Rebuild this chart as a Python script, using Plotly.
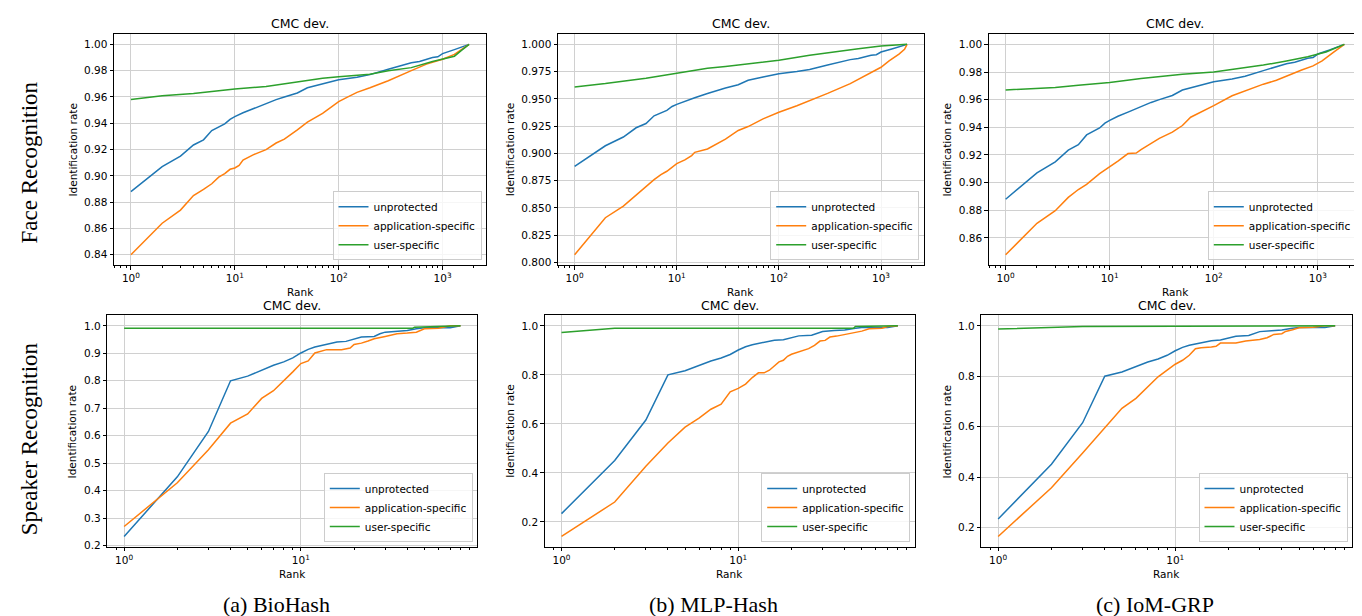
import math
import plotly.graph_objects as go

# ---------------- data ----------------
series_names = ["unprotected", "application-specific", "user-specific"]
column_captions = ["(a) BioHash", "(b) MLP-Hash", "(c) IoM-GRP"]
row_labels = ["Face Recognition", "Speaker Recognition"]
panel_title = "CMC dev."
x_title = "Rank"
y_title = "Identification rate"

# Face recognition (top row)
face_unprot_rank = [1, 2, 3, 4, 5, 6, 8, 9, 10, 12, 15, 20, 25, 30, 40, 50, 70, 100, 150, 200,
                    300, 400, 500, 600, 800, 900, 1000, 1300, 1500, 1800]
face_unprot_rate = [0.888, 0.907, 0.915, 0.9235, 0.9274, 0.9345, 0.9395, 0.943, 0.945, 0.948,
                    0.951, 0.955, 0.958, 0.960, 0.963, 0.967, 0.970, 0.973, 0.975, 0.977,
                    0.981, 0.984, 0.986, 0.987, 0.990, 0.9905, 0.993, 0.996, 0.998, 1.0]

bio_face_app_rank = [1, 2, 3, 4, 5, 6, 7, 8, 9, 10, 11, 12, 15, 20, 25, 30, 40, 50, 70, 100,
                     120, 150, 200, 300, 500, 700, 1000, 1300, 1800]
bio_face_app_rate = [0.840, 0.864, 0.874, 0.885, 0.8897, 0.894, 0.899, 0.9017, 0.905, 0.906,
                     0.908, 0.912, 0.916, 0.920, 0.925, 0.928, 0.935, 0.9408, 0.9476, 0.9564,
                     0.9597, 0.9635, 0.967, 0.9723, 0.980, 0.985, 0.9887, 0.9924, 1.0]
bio_face_user_rank = [1, 2, 4, 6, 10, 20, 30, 50, 70, 100, 200, 300, 500, 800, 1000, 1300, 1500, 1800]
bio_face_user_rate = [0.958, 0.961, 0.9627, 0.9642, 0.966, 0.968, 0.970, 0.9728, 0.9743, 0.9753,
                      0.9773, 0.980, 0.9823, 0.987, 0.9887, 0.991, 0.995, 1.0]

mlp_face_app_rank = [1, 2, 3, 4, 5, 6, 7, 8, 10, 12, 14, 15, 20, 25, 30, 40, 50, 70, 100, 150,
                     200, 300, 500, 700, 900, 1000, 1200, 1500, 1700, 1800]
mlp_face_app_rate = [0.807, 0.841, 0.8517, 0.8617, 0.870, 0.876, 0.8805, 0.8836, 0.8906, 0.894,
                     0.898, 0.901, 0.904, 0.9088, 0.913, 0.921, 0.9246, 0.9316, 0.9377, 0.9437,
                     0.9483, 0.955, 0.964, 0.971, 0.977, 0.979, 0.9848, 0.991, 0.9954, 1.0]
mlp_face_user_rank = [1, 2, 5, 10, 20, 30, 50, 100, 200, 400, 600, 1000, 1800]
mlp_face_user_rate = [0.961, 0.964, 0.969, 0.9735, 0.978, 0.9796, 0.982, 0.9854, 0.990, 0.994,
                      0.996, 0.9985, 1.0]

iom_face_app_rank = [1, 2, 3, 4, 5, 6, 8, 10, 12, 15, 18, 20, 25, 30, 40, 50, 60, 70, 100, 150,
                     200, 300, 400, 500, 700, 900, 1100, 1400, 1800]
iom_face_app_rate = [0.8478, 0.8706, 0.8797, 0.8893, 0.895, 0.8988, 0.9065, 0.9113, 0.9156, 0.921,
                     0.9214, 0.9238, 0.928, 0.932, 0.9365, 0.9413, 0.9473, 0.9497, 0.9557, 0.9628,
                     0.9664, 0.9712, 0.974, 0.9772, 0.9815, 0.9844, 0.988, 0.994, 1.0]
iom_face_user_rank = [1, 3, 5, 10, 20, 50, 100, 200, 300, 500, 800, 1200, 1800]
iom_face_user_rate = [0.967, 0.9688, 0.9705, 0.9724, 0.9753, 0.9784, 0.980, 0.9832, 0.985, 0.988,
                      0.9911, 0.9945, 1.0]

# Speaker recognition (bottom row)
spk_unprot_rank = [1, 2, 3, 4, 5, 6, 7, 8, 9, 10, 11, 12, 14, 16, 18, 20, 22, 26, 28, 30, 35, 40,
                   45, 50, 70, 80]
spk_unprot_rate = [0.2337, 0.4506, 0.6157, 0.800, 0.8169, 0.8386, 0.8566, 0.8687, 0.8831, 0.9012,
                   0.9145, 0.923, 0.9313, 0.941, 0.9434, 0.953, 0.959, 0.9614, 0.9711, 0.977,
                   0.9807, 0.9831, 0.989, 0.993, 0.993, 1.0]

bio_spk_app_rank = [1, 2, 3, 4, 5, 6, 7, 8, 9, 10, 11, 12, 13, 14, 17, 19, 20, 22, 24, 26, 30, 35,
                    40, 45, 50, 60, 70, 80]
bio_spk_app_rate = [0.270, 0.429, 0.5494, 0.6458, 0.6795, 0.736, 0.7639, 0.8024, 0.8325, 0.8627,
                    0.8723, 0.901, 0.908, 0.9133, 0.9133, 0.919, 0.932, 0.937, 0.9446, 0.953,
                    0.9614, 0.971, 0.9735, 0.977, 0.989, 0.9916, 1.0, 1.0]
bio_spk_user_rank = [1, 43, 44, 80]
bio_spk_user_rate = [0.9916, 0.9916, 0.9952, 1.0]

mlp_spk_app_rank = [1, 2, 3, 4, 5, 6, 7, 8, 9, 10, 11, 12, 13, 14, 15, 16, 17, 18, 19, 20, 22, 25,
                    27, 29, 31, 33, 36, 40, 45, 50, 55, 65, 70, 80]
mlp_spk_app_rate = [0.1405, 0.281, 0.427, 0.5216, 0.5865, 0.623, 0.6595, 0.680, 0.731, 0.7446,
                    0.762, 0.789, 0.808, 0.808, 0.8189, 0.835, 0.8527, 0.8595, 0.8757, 0.8838,
                    0.893, 0.9068, 0.920, 0.9378, 0.9405, 0.954, 0.958, 0.9649, 0.9703, 0.9784,
                    0.9878, 0.9905, 0.997, 1.0]
mlp_spk_user_rank = [1, 2, 45, 46, 80]
mlp_spk_user_rate = [0.973, 0.9905, 0.9905, 0.997, 1.0]

iom_spk_app_rank = [1, 2, 3, 4, 5, 6, 7, 8, 9, 10, 11, 12, 13, 14, 16, 17, 18, 22, 25, 28, 30, 33,
                    36, 40, 42, 46, 50, 60, 70, 80]
iom_spk_app_rate = [0.1645, 0.3577, 0.4956, 0.598, 0.6729, 0.7123, 0.7583, 0.7977, 0.824, 0.8476,
                    0.8634, 0.8831, 0.9094, 0.9133, 0.916, 0.9186, 0.9317, 0.9317, 0.9396, 0.9422,
                    0.946, 0.9527, 0.9658, 0.9685, 0.9777, 0.9842, 0.992, 0.9947, 1.0, 1.0]
iom_spk_user_rank = [1, 2, 3, 80]
iom_spk_user_rate = [0.9869, 0.992, 0.997, 1.0]

face_yticks_bio = [0.84, 0.86, 0.88, 0.90, 0.92, 0.94, 0.96, 0.98, 1.00]
face_yticks_mlp = [0.800, 0.825, 0.850, 0.875, 0.900, 0.925, 0.950, 0.975, 1.000]
face_yticks_iom = [0.86, 0.88, 0.90, 0.92, 0.94, 0.96, 0.98, 1.00]
spk_yticks_bio = [0.2, 0.3, 0.4, 0.5, 0.6, 0.7, 0.8, 0.9, 1.0]
spk_yticks_other = [0.2, 0.4, 0.6, 0.8, 1.0]

# ---------------- layout ----------------
W, H = 1362, 616
COLORS = ["#1f77b4", "#ff7f0e", "#2ca02c"]
TICKFONT = dict(family="DejaVu Sans", size=10.5, color="black")

panels = [
    dict(box=(106, 26, 478, 259), series=[(face_unprot_rank, face_unprot_rate),
                                           (bio_face_app_rank, bio_face_app_rate),
                                           (bio_face_user_rank, bio_face_user_rate)],
         yticks=face_yticks_bio, yfmt=".2f", ytx=65),
    dict(box=(550, 26, 915.7, 259), series=[(face_unprot_rank, face_unprot_rate),
                                             (mlp_face_app_rank, mlp_face_app_rate),
                                             (mlp_face_user_rank, mlp_face_user_rate)],
         yticks=face_yticks_mlp, yfmt=".3f", ytx=501.7),
    dict(box=(980.7, 26, 1353.3, 259), series=[(face_unprot_rank, face_unprot_rate),
                                                (iom_face_app_rank, iom_face_app_rate),
                                                (iom_face_user_rank, iom_face_user_rate)],
         yticks=face_yticks_iom, yfmt=".2f", ytx=939),
    dict(box=(99.3, 309.3, 469.3, 542.5), series=[(spk_unprot_rank, spk_unprot_rate),
                                                   (bio_spk_app_rank, bio_spk_app_rate),
                                                   (bio_spk_user_rank, bio_spk_user_rate)],
         yticks=spk_yticks_bio, yfmt=".1f", ytx=64.3),
    dict(box=(536.7, 309.3, 906.7, 542.5), series=[(spk_unprot_rank, spk_unprot_rate),
                                                    (mlp_spk_app_rank, mlp_spk_app_rate),
                                                    (mlp_spk_user_rank, mlp_spk_user_rate)],
         yticks=spk_yticks_other, yfmt=".1f", ytx=501.7),
    dict(box=(973.3, 309.3, 1344, 542.5), series=[(spk_unprot_rank, spk_unprot_rate),
                                                   (iom_spk_app_rank, iom_spk_app_rate),
                                                   (iom_spk_user_rank, iom_spk_user_rate)],
         yticks=spk_yticks_other, yfmt=".1f", ytx=939.3),
]

fig = go.Figure()
layout = dict(width=W, height=H, margin=dict(l=0, r=0, t=0, b=0),
              paper_bgcolor="white", plot_bgcolor="white", showlegend=True)
annotations = []


def px(x):
    return x / W


def py(y):
    return 1 - y / H


for i, p in enumerate(panels):
    n = i + 1
    sfx = "" if n == 1 else str(n)
    x0, y0, x1, y1 = p["box"]
    allx = [v for r, _ in p["series"] for v in r]
    ally = [v for _, v in p["series"] for v in v]
    lx0, lx1 = math.log10(min(allx)), math.log10(max(allx))
    mx = 0.05 * (lx1 - lx0)
    ylo, yhi = min(ally), max(ally)
    my = 0.05 * (yhi - ylo)
    decades = list(range(0, int(math.ceil(lx1 + mx)) + 1))
    minor_vals = [m * 10 ** d for d in range(-1, decades[-1] + 1) for m in range(2, 10)]
    legname = "legend" if n == 1 else "legend%d" % n
    for k, (r, v) in enumerate(p["series"]):
        fig.add_trace(go.Scatter(x=r, y=v, mode="lines", name=series_names[k],
                                 line=dict(color=COLORS[k], width=1.5),
                                 xaxis="x" + sfx, yaxis="y" + sfx, legend=legname))
    common = dict(showline=True, linecolor="black", linewidth=1, mirror=True,
                  ticks="outside", ticklen=3.5, tickwidth=1, tickcolor="black",
                  showgrid=True, gridcolor="#d0d0d0", gridwidth=1, zeroline=False,
                  tickfont=TICKFONT)
    layout["xaxis" + sfx] = dict(common, type="log", domain=[px(x0), px(x1)],
                                 anchor="y" + sfx, range=[lx0 - mx, lx1 + mx],
                                 tickmode="array", tickvals=[10 ** d for d in decades],
                                 ticktext=["10<sup>%d</sup>" % d for d in decades],
                                 minor=dict(tickmode="array", tickvals=minor_vals,
                                            ticks="outside", ticklen=2, tickcolor="black",
                                            showgrid=False))
    layout["yaxis" + sfx] = dict(common, domain=[py(y1), py(y0)], anchor="x" + sfx,
                                 range=[ylo - my, yhi + my], tickmode="array",
                                 tickvals=p["yticks"], tickformat=p["yfmt"])
    layout[legname] = dict(x=px(x1 - 4.5), y=py(y1 - 5), xanchor="right", yanchor="bottom",
                           bgcolor="rgba(255,255,255,0.8)", bordercolor="#cccccc",
                           borderwidth=1, font=dict(family="DejaVu Sans", size=10.5,
                                                    color="black"),
                           itemwidth=30, tracegroupgap=0)
    cx = (x0 + x1) / 2
    annotations.append(dict(text=panel_title, x=px(cx), y=py(y0 - 10.3), xref="paper",
                            yref="paper", showarrow=False, xanchor="center", yanchor="middle",
                            font=dict(family="DejaVu Sans", size=12.5, color="black")))
    annotations.append(dict(text=x_title, x=px(cx), y=py(y1 + 27.3), xref="paper",
                            yref="paper", showarrow=False, xanchor="center", yanchor="middle",
                            font=dict(family="DejaVu Sans", size=10.5, color="black")))
    annotations.append(dict(text=y_title, x=px(p["ytx"]), y=py((y0 + y1) / 2), xref="paper",
                            yref="paper", showarrow=False, xanchor="center", yanchor="middle",
                            textangle=-90,
                            font=dict(family="DejaVu Sans", size=10.5, color="black")))

for lbl, cy in zip(row_labels, [155.5, 434]):
    annotations.append(dict(text=lbl, x=px(21), y=py(cy), xref="paper", yref="paper",
                            showarrow=False, xanchor="center", yanchor="middle", textangle=-90,
                            font=dict(family="Liberation Serif", size=23, color="black")))
for cap, cx in zip(column_captions, [268.5, 705, 1147]):
    annotations.append(dict(text=cap, x=px(cx), y=py(600), xref="paper", yref="paper",
                            showarrow=False, xanchor="center", yanchor="middle",
                            font=dict(family="Liberation Serif", size=22, color="black")))

layout["annotations"] = annotations
fig.update_layout(**layout)
fig.write_html("out.html")
